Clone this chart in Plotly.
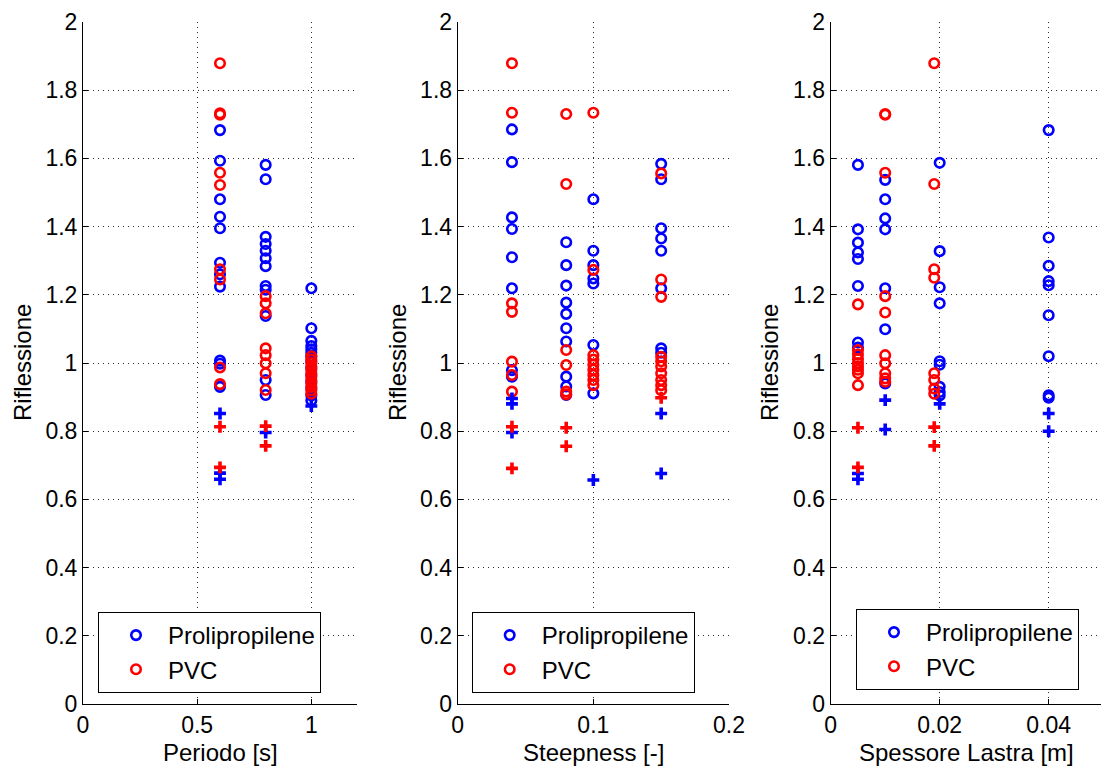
import plotly.graph_objects as go

# ---------------- data ----------------
# Riflessione vs Periodo [s]
periodo_vals = [0.6, 0.8, 1.0]
periodo_pp_circ = [
    [1.683, 1.593, 1.480, 1.429, 1.395, 1.294, 1.260, 1.224, 1.007, 0.998, 0.930],
    [1.581, 1.539, 1.370, 1.349, 1.329, 1.307, 1.284, 1.226, 1.215, 1.138, 0.950, 0.906],
    [1.219, 1.102, 1.065, 1.050, 1.040, 1.030, 1.020, 1.005, 0.985, 0.965, 0.945, 0.925, 0.905, 0.890],
]
periodo_pvc_circ = [
    [1.879, 1.732, 1.728, 1.558, 1.522, 1.275, 1.245, 0.987, 0.938],
    [1.196, 1.175, 1.146, 1.043, 1.023, 0.999, 0.970, 0.921],
    [1.020, 1.010, 1.000, 0.990, 0.980, 0.970, 0.960, 0.950, 0.940, 0.930, 0.920, 0.910],
]
periodo_pp_plus = [[0.852, 0.677, 0.659], [0.796], [0.874]]
periodo_pvc_plus = [[0.813, 0.694], [0.815, 0.757], []]

# Riflessione vs Steepness [-]
steep_vals = [0.04, 0.08, 0.10, 0.15]
steep_pp_circ = [
    [1.685, 1.589, 1.427, 1.393, 1.310, 1.219, 0.979, 0.960],
    [1.354, 1.287, 1.227, 1.177, 1.144, 1.102, 1.063, 0.960, 0.931, 0.906],
    [1.480, 1.329, 1.287, 1.248, 1.233, 1.053, 0.911],
    [1.584, 1.539, 1.395, 1.365, 1.329, 1.219, 1.043, 1.030],
]
steep_pvc_circ = [
    [1.879, 1.734, 1.175, 1.150, 1.004, 0.965, 0.916],
    [1.730, 1.525, 1.038, 0.994, 0.916, 0.908],
    [1.734, 1.273, 1.023, 1.010, 0.995, 0.980, 0.965, 0.950, 0.935],
    [1.556, 1.245, 1.194, 1.018, 1.005, 0.990, 0.970, 0.950, 0.935, 0.920],
]
steep_pp_plus = [[0.896, 0.880, 0.796], [], [0.657], [0.852, 0.676]]
steep_pvc_plus = [[0.813, 0.691], [0.810, 0.756], [], [0.898]]

# Riflessione vs Spessore Lastra [m]
spess_vals = [0.005, 0.010, 0.019, 0.020, 0.040]
spess_pp_circ = [
    [1.581, 1.392, 1.353, 1.324, 1.305, 1.226, 1.060, 1.045],
    [1.537, 1.480, 1.424, 1.392, 1.219, 1.099, 0.940],
    [],
    [1.587, 1.328, 1.222, 1.175, 1.005, 0.995, 0.930, 0.915, 0.905],
    [1.683, 1.368, 1.285, 1.240, 1.228, 1.140, 1.020, 0.905, 0.898],
]
spess_pvc_circ = [
    [1.172, 1.038, 1.025, 1.012, 1.000, 0.990, 0.980, 0.970, 0.935],
    [1.730, 1.728, 1.558, 1.196, 1.148, 1.023, 0.999, 0.970, 0.955, 0.945],
    [1.879, 1.525, 1.275, 1.250, 0.970, 0.950, 0.925, 0.910],
    [],
    [],
]
spess_pp_plus = [[0.676, 0.659], [0.891, 0.805], [], [0.880], [0.852, 0.800]]
spess_pvc_plus = [[0.810, 0.694], [], [0.812, 0.757], [], []]

y_ticks = [0, 0.2, 0.4, 0.6, 0.8, 1, 1.2, 1.4, 1.6, 1.8, 2]
x1_ticks = [0, 0.5, 1]
x2_ticks = [0, 0.1, 0.2]
x3_ticks = [0, 0.02, 0.04]
x_titles = ["Periodo [s]", "Steepness [-]", "Spessore Lastra [m]"]
y_title = "Riflessione"
series_names = ["Prolipropilene", "PVC"]

# ---------------- styling ----------------
BLUE = "rgb(0,0,255)"
RED = "rgb(255,0,0)"
FONT = "Liberation Sans, Arial, sans-serif"
W, H = 1101, 769


def flatten(xvals, groups):
    xs, ys = [], []
    for xv, g in zip(xvals, groups):
        for v in g:
            xs.append(xv)
            ys.append(v)
    return xs, ys


fig = go.Figure()

panels = [
    (periodo_vals, periodo_pp_circ, periodo_pvc_circ, periodo_pp_plus, periodo_pvc_plus),
    (steep_vals, steep_pp_circ, steep_pvc_circ, steep_pp_plus, steep_pvc_plus),
    (spess_vals, spess_pp_circ, spess_pvc_circ, spess_pp_plus, spess_pvc_plus),
]
legend_ids = ["legend", "legend2", "legend3"]

for i, (xv, ppc, pvcc, ppp, pvcp) in enumerate(panels):
    xa = "x" if i == 0 else f"x{i+1}"
    ya = "y" if i == 0 else f"y{i+1}"
    for groups, color, name in ((ppc, BLUE, series_names[0]), (pvcc, RED, series_names[1])):
        xs, ys = flatten(xv, groups)
        fig.add_trace(go.Scatter(
            x=xs, y=ys, mode="markers", name=name, xaxis=xa, yaxis=ya,
            legend=legend_ids[i], cliponaxis=False,
            marker=dict(symbol="circle-open", size=9.5, color=color,
                        line=dict(width=2.6, color=color)),
        ))
    for groups, color in ((ppp, BLUE), (pvcp, RED)):
        xs, ys = flatten(xv, groups)
        fig.add_trace(go.Scatter(
            x=xs, y=ys, mode="markers", showlegend=False, xaxis=xa, yaxis=ya,
            cliponaxis=False,
            marker=dict(symbol="cross-thin", size=8.5, color=color,
                        line=dict(width=3.6, color=color)),
        ))

# axis geometry in pixels
y_bottom, y_top = 704, 22
x_spans = [(83, 357), (457.7, 729), (830.7, W)]
x_ranges = [[0, 1.2], [0, 0.2], [0, 0.0496]]
x_tickvals = [x1_ticks, x2_ticks, x3_ticks]

ydom = [(H - y_bottom) / H, (H - y_top) / H]

axis_common = dict(
    showline=True, linecolor="black", linewidth=1,
    ticks="inside", ticklen=5, tickcolor="black", tickwidth=1,
    showgrid=True, gridcolor="#2a2a2a", gridwidth=1, griddash="1px,4px",
    zeroline=False, tickfont=dict(family=FONT, size=23, color="black"),
    automargin=False, mirror=False,
)

layout = dict(
    width=W, height=H, margin=dict(l=0, r=0, t=0, b=0),
    paper_bgcolor="white", plot_bgcolor="white",
    font=dict(family=FONT, size=23, color="black"),
)
for i in range(3):
    xk = "xaxis" if i == 0 else f"xaxis{i+1}"
    yk = "yaxis" if i == 0 else f"yaxis{i+1}"
    xa = "x" if i == 0 else f"x{i+1}"
    ya = "y" if i == 0 else f"y{i+1}"
    x0, x1 = x_spans[i]
    layout[xk] = dict(axis_common, domain=[x0 / W, x1 / W], range=x_ranges[i],
                      anchor=ya, tickmode="array", tickvals=x_tickvals[i],
                      ticktext=[f"{v:g}" for v in x_tickvals[i]])
    layout[yk] = dict(axis_common, domain=ydom, range=[0, 2], anchor=xa,
                      tickmode="array", tickvals=y_ticks,
                      ticktext=[f"{v:g}" for v in y_ticks])

# legends, one per panel
legend_boxes = [(98, 612), (471.7, 612), (856, 609)]
for i, (lx, ly) in enumerate(legend_boxes):
    layout[legend_ids[i]] = dict(
        x=lx / W, y=(H - ly) / H, xanchor="left", yanchor="top",
        bgcolor="white", bordercolor="black", borderwidth=1,
        font=dict(family=FONT, size=24, color="black"),
        indentation=5, itemwidth=54, tracegroupgap=0,
    )

fig.update_layout(**layout)

# axis titles
ann = []
xt_centers = [(a + b) / 2 for a, b in x_spans]
xt_centers[2] = 966
yt_x = [22, 397, 769]
for i in range(3):
    ann.append(dict(text=x_titles[i], x=xt_centers[i] / W, y=(H - 752) / H,
                    xref="paper", yref="paper", showarrow=False,
                    xanchor="center", yanchor="middle",
                    font=dict(family=FONT, size=24, color="black")))
    ann.append(dict(text=y_title, x=yt_x[i] / W, y=(H - 363) / H,
                    xref="paper", yref="paper", showarrow=False, textangle=-90,
                    xanchor="center", yanchor="middle",
                    font=dict(family=FONT, size=24, color="black")))
fig.update_layout(annotations=ann)

fig.write_html("out.html")
